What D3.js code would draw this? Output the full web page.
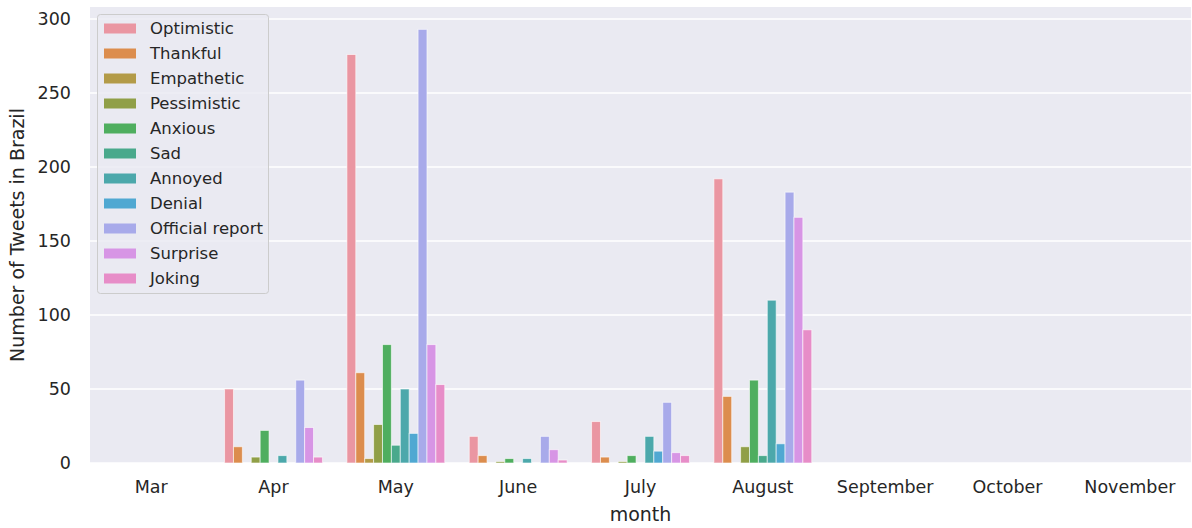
<!DOCTYPE html>
<html>
<head>
<meta charset="utf-8">
<script src="https://cdn.jsdelivr.net/npm/d3@7"></script>
<style>
  html, body { margin: 0; padding: 0; background: #ffffff; }
  svg { display: block; font-family: "DejaVu Sans", sans-serif; }
</style>
</head>
<body>
<svg id="chart" width="1192" height="528"></svg>
<script>
const months = ["Mar", "Apr", "May", "June", "July", "August", "September", "October", "November"];
const emotions = ["Optimistic", "Thankful", "Empathetic", "Pessimistic", "Anxious", "Sad", "Annoyed", "Denial", "Official report", "Surprise", "Joking"];
const colors = ["#ea96a2", "#dc8d4e", "#b39b48", "#909f47", "#4fae5f", "#4aa98c", "#4ca8ab", "#50a8d2", "#a8aaea", "#d795e5", "#e78dc8"];
const yTicks = [0, 50, 100, 150, 200, 250, 300];

const optimistic = [0, 50, 276, 18, 28, 192, 0, 0, 0];
const thankful   = [0, 11, 61, 5, 4, 45, 0, 0, 0];
const empathetic = [0, 0, 3, 0, 0, 0, 0, 0, 0];
const pessimistic= [0, 4, 26, 1, 1, 11, 0, 0, 0];
const anxious    = [0, 22, 80, 3, 5, 56, 0, 0, 0];
const sad        = [0, 0, 12, 0, 0, 5, 0, 0, 0];
const annoyed    = [0, 5, 50, 3, 18, 110, 0, 0, 0];
const denial     = [0, 0, 20, 0, 8, 13, 0, 0, 0];
const officialReport = [0, 56, 293, 18, 41, 183, 0, 0, 0];
const surprise   = [0, 24, 80, 9, 7, 166, 0, 0, 0];
const joking     = [0, 4, 53, 2, 5, 90, 0, 0, 0];

const seriesValues = [optimistic, thankful, empathetic, pessimistic, anxious, sad, annoyed, denial, officialReport, surprise, joking];

const svg = d3.select("#chart");
const plot = { left: 90, right: 1191, top: 7, bottom: 463 };
const textColor = "#262626";

const x = d3.scaleBand().domain(months).range([plot.left, plot.right]).paddingInner(0).paddingOuter(0);
const xInner = d3.scaleBand().domain(emotions).range([0, x.bandwidth() * 0.8]).padding(0);
const y = d3.scaleLinear().domain([0, 308.1]).range([plot.bottom, plot.top]);

// background
svg.append("rect")
  .attr("x", plot.left).attr("y", plot.top)
  .attr("width", plot.right - plot.left).attr("height", plot.bottom - plot.top)
  .attr("fill", "#eaeaf2");

// grid
svg.append("g").selectAll("line").data(yTicks).join("line")
  .attr("x1", plot.left).attr("x2", plot.right)
  .attr("y1", d => y(d)).attr("y2", d => y(d))
  .attr("stroke", "#ffffff").attr("stroke-width", 1.3);

// y axis
const yAxis = svg.append("g")
  .attr("transform", `translate(${plot.left},0)`)
  .call(d3.axisLeft(y).tickValues(yTicks).tickSize(0).tickPadding(19));
yAxis.select(".domain").remove();
yAxis.selectAll("text").attr("fill", textColor).style("font-size", "17.5px").style("font-family", "DejaVu Sans");

// x axis
const xAxis = svg.append("g")
  .attr("transform", `translate(0,${plot.bottom})`)
  .call(d3.axisBottom(x).tickSize(0).tickPadding(18));
xAxis.select(".domain").remove();
xAxis.selectAll("text").attr("fill", textColor).style("font-size", "17.5px").style("font-family", "DejaVu Sans");

// bars
const rows = [];
months.forEach((m, mi) => {
  emotions.forEach((e, ei) => {
    rows.push({ month: m, emotion: e, value: seriesValues[ei][mi], color: colors[ei] });
  });
});
svg.append("g").selectAll("rect").data(rows.filter(d => d.value > 0)).join("rect")
  .attr("x", d => x(d.month) + x.bandwidth() * 0.1 + xInner(d.emotion))
  .attr("y", d => y(d.value))
  .attr("width", xInner.bandwidth())
  .attr("height", d => y(0) - y(d.value))
  .attr("fill", d => d.color)
  .attr("stroke", "rgba(255,255,255,0.6)")
  .attr("stroke-width", 1);

// axis labels
svg.append("text")
  .attr("x", (plot.left + plot.right) / 2).attr("y", 521)
  .attr("text-anchor", "middle").attr("fill", textColor)
  .style("font-size", "19px").text("month");
svg.append("text")
  .attr("transform", `translate(24,${(plot.top + plot.bottom) / 2}) rotate(-90)`)
  .attr("text-anchor", "middle").attr("fill", textColor)
  .style("font-size", "19px").text("Number of Tweets in Brazil");

// legend
const legend = svg.append("g");
legend.append("rect")
  .attr("x", 97.5).attr("y", 14.5).attr("width", 171).attr("height", 279)
  .attr("rx", 3).attr("fill", "#eaeaf2").attr("fill-opacity", 0.85)
  .attr("stroke", "#cccccc").attr("stroke-width", 1);
const items = legend.selectAll("g.item").data(emotions).join("g")
  .attr("class", "item")
  .attr("transform", (d, i) => `translate(0,${28.5 + i * 25})`);
items.append("rect")
  .attr("x", 104).attr("y", -5).attr("width", 32).attr("height", 10)
  .attr("fill", (d, i) => colors[i]);
items.append("text")
  .attr("x", 150).attr("y", 0).attr("dy", "0.35em")
  .attr("fill", textColor).style("font-size", "16.5px")
  .text(d => d);
</script>
</body>
</html>
